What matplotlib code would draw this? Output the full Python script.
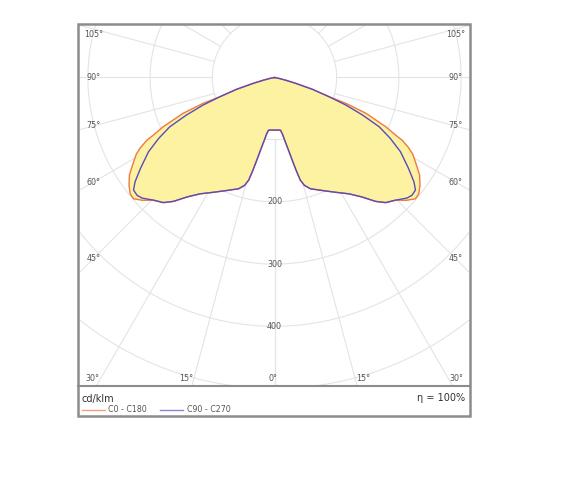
import numpy as np
import matplotlib
matplotlib.use("Agg")
import matplotlib.pyplot as plt
from matplotlib.lines import Line2D
from matplotlib.patches import Rectangle

# luminous intensity (cd/klm) against gamma angle
gamma_c0 = [0, 4, 6.5, 8, 9.2, 10.9, 12.1, 13.1, 14.1, 15.5, 17.9, 22.8, 28, 32.6, 36.2,
            39.2, 41.6, 44.6, 47.1, 49.3, 51.1, 53.5, 56.1, 59.1, 61, 62.4, 63.8, 64.6,
            66.1, 68.6, 70.1, 70.6, 72.7, 74.7, 76.5, 78.7, 80, 90]
int_c0 = [84.5, 84.7, 85.3, 92, 102, 119, 136, 153, 170, 180, 188, 197, 209, 222, 238,
          257, 269, 277, 290, 299, 298, 291, 281, 264, 254, 243, 229, 215,
          196, 158, 122, 93, 64, 35, 18, 7, 0, 0]

gamma_c90 = [0, 4, 6.5, 8, 9.2, 10.9, 12.1, 13.1, 14.1, 15.5, 17.9, 22.8, 28, 32.6, 36.2,
             39.2, 41.6, 44.6, 47.7, 49.4, 51.4, 53.2, 55.9, 59.5, 62.3, 64.8, 66.9,
             68.9, 70.6, 72.7, 74.7, 76.5, 78.7, 80, 90]
int_c90 = [84.5, 84.7, 85.3, 92, 102, 119, 136, 153, 170, 180, 188, 197, 209, 222, 238,
           257, 269, 277, 288, 291, 290, 280, 260, 235, 210, 186, 154,
           123, 93, 64, 35, 18, 7, 0, 0]

rings = [100, 200, 300, 400, 500]
ring_labels = [200, 300, 400]
side_angles = [45, 60, 75, 90, 105]
bottom_angles = [30, 15, 0]

W, H = 564, 499
cx, cy = 274.5, 77.5   # pole of the diagram in pixels
s = 0.622              # pixels per cd/klm
left, right, top, bottom = 79, 469, 25, 385

fig = plt.figure(figsize=(W / 100, H / 100), dpi=100)
ax = fig.add_axes([left / W, (H - bottom) / H, (right - left) / W, (bottom - top) / H])
ax.set_xlim((left - cx) / s, (right - cx) / s)
ax.set_ylim(-(bottom - cy) / s, (cy - top) / s)
ax.axis("off")

grid = "#e4e4e4"
t = np.linspace(0, 2 * np.pi, 400)
for r in rings:
    ax.plot(r * np.cos(t), r * np.sin(t), color=grid, lw=0.8, zorder=1)
for a in range(0, 181, 15):
    ar = np.radians(a)
    for sgn in (-1, 1):
        ax.plot([sgn * 100 * np.sin(ar), sgn * 900 * np.sin(ar)],
                [-100 * np.cos(ar), -900 * np.cos(ar)], color=grid, lw=0.8, zorder=1)


def outline(g, i):
    g = np.radians(np.array(g))
    i = np.array(i)
    xs = np.concatenate([-(i * np.sin(g))[::-1], (i * np.sin(g))[1:]])
    ys = np.concatenate([-(i * np.cos(g))[::-1], -(i * np.cos(g))[1:]])
    return xs, ys


x0, y0 = outline(gamma_c0, int_c0)
x9, y9 = outline(gamma_c90, int_c90)
ax.fill(x0, y0, color="#fdf1a2", lw=0, zorder=2)
ax.fill(x9, y9, color="#fdf1a2", lw=0, zorder=2)
ax.plot(x0, y0, color="#ee7a3c", lw=1.0, zorder=3)
ax.plot(x9, y9, color="#5a4bb8", lw=1.0, zorder=4)

tc = "#555555"
fs = 5.8
for v in ring_labels:
    ax.text(0, -v, str(v), ha="center", va="center", fontsize=fs, color=tc, zorder=5)

X = 181 / s
ytop = (cy - 35) / s
for a in side_angles:
    y = min(-X / np.tan(np.radians(a)), ytop)
    ax.text(-X, y, f"{a}°", ha="center", va="center", fontsize=fs, color=tc, zorder=5)
    ax.text(X, y, f"{a}°", ha="center", va="center", fontsize=fs, color=tc, zorder=5)

yb = -(378.3 - cy) / s
shift = 8 / s
for a in bottom_angles:
    xr = -yb * np.tan(np.radians(a))
    if a == 0:
        ax.text(-1.5 / s, yb, "0°", ha="center", va="center", fontsize=fs, color=tc, zorder=5)
    else:
        ax.text(-xr - shift, yb, f"{a}°", ha="center", va="center", fontsize=fs, color=tc, zorder=5)
        ax.text(xr + shift, yb, f"{a}°", ha="center", va="center", fontsize=fs, color=tc, zorder=5)

# frame and footer
frame = "#8c8c8c"
fig.add_artist(Rectangle((78 / W, (H - 416) / H), (470 - 78) / W, (416 - 24) / H,
                         transform=fig.transFigure, fill=False, ec=frame, lw=1.8))
fig.add_artist(Line2D([78 / W, 470 / W], [(H - 386) / H] * 2, color=frame, lw=1.5))

fig.text(82 / W, (H - 399) / H, "cd/klm", fontsize=7, color="#333333", va="center")
fig.text(465 / W, (H - 398) / H, "η = 100%", fontsize=7, color="#333333", va="center", ha="right")
fig.add_artist(Line2D([82 / W, 105 / W], [(H - 409.5) / H] * 2, color="#f4a07a", lw=1))
fig.text(108 / W, (H - 409.5) / H, "C0 - C180", fontsize=5.7, color=tc, va="center")
fig.add_artist(Line2D([160 / W, 183 / W], [(H - 409.5) / H] * 2, color="#8c86d0", lw=1))
fig.text(187 / W, (H - 409.5) / H, "C90 - C270", fontsize=5.7, color=tc, va="center")

fig.savefig("out.png", dpi=100, facecolor="white")
